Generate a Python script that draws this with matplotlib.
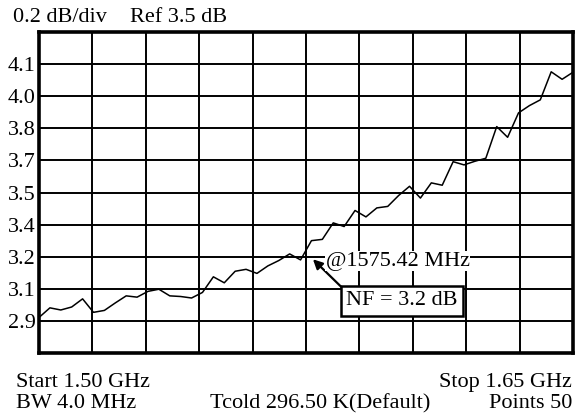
import numpy as np
import matplotlib
matplotlib.use("Agg")
import matplotlib.pyplot as plt

plt.rcParams['font.family'] = ['Liberation Serif', 'DejaVu Serif']
plt.rcParams['font.size'] = 16

# sweep settings
f_start = 1.50  # GHz
f_stop = 1.65
n_points = 50

# noise figure trace (dB)
nf_db = [2.916, 2.961, 2.951, 2.965, 3.003, 2.940, 2.949, 2.984, 3.017, 3.011,
         3.038, 3.048, 3.017, 3.014, 3.007, 3.033, 3.106, 3.078, 3.132, 3.141,
         3.122, 3.157, 3.182, 3.213, 3.185, 3.275, 3.281, 3.358, 3.341, 3.416,
         3.386, 3.428, 3.435, 3.486, 3.529, 3.474, 3.545, 3.534, 3.644, 3.629,
         3.646, 3.660, 3.808, 3.758, 3.872, 3.906, 3.933, 4.064, 4.029, 4.062]

y_bottom = 2.75
y_top = 4.25
y_ticks = [2.9, 3.05, 3.2, 3.35, 3.5, 3.65, 3.8, 3.95, 4.1]
y_labels = ['2.9', '3.1', '3.2', '3.4', '3.5', '3.7', '3.8', '4.0', '4.1']

freq = np.linspace(f_start, f_stop, n_points)

fig = plt.figure(figsize=(5.75, 4.15), dpi=100)
ax = fig.add_axes([39 / 575, 62 / 415, 534 / 575, 321 / 415])

ax.plot(freq, nf_db, color='black', lw=1.1)

ax.set_xlim(f_start, f_stop)
ax.set_ylim(y_bottom, y_top)
ax.set_xticks(np.linspace(f_start, f_stop, 11))
ax.set_xticklabels([])
ax.set_yticks(y_ticks)
ax.set_yticklabels(y_labels)
ax.tick_params(length=0, pad=2.5, labelsize=16)
ax.set_yticks(np.linspace(y_bottom, y_top, 11), minor=True)
ax.tick_params(which='minor', length=0)
ax.grid(True, which='major', axis='x', color='black', lw=1.4)
ax.grid(True, which='both', axis='y', color='black', lw=1.4)
ax.set_axisbelow(True)
for s in ax.spines.values():
    s.set_linewidth(2.6)

# marker readout
ax.annotate('', xy=(0.513, 0.292), xytext=(0.566, 0.206), xycoords='axes fraction',
            arrowprops=dict(arrowstyle='-|>', color='black', lw=1.6, mutation_scale=14,
                            shrinkA=0, shrinkB=0))
ax.text(0.537, 0.286, '@1575.42 MHz', transform=ax.transAxes, ha='left', va='center',
        fontsize=16, bbox=dict(facecolor='white', edgecolor='none', pad=0.5))
ax.text(0.680, 0.163, 'NF = 3.2 dB', transform=ax.transAxes, ha='center', va='center',
        fontsize=16, bbox=dict(facecolor='white', edgecolor='black', lw=1.8,
                               boxstyle='square,pad=0.25'))

# header / footer
fig.text(13 / 575, 1 - 22 / 415, '0.2 dB/div', ha='left', va='baseline')
fig.text(130 / 575, 1 - 22 / 415, 'Ref 3.5 dB', ha='left', va='baseline')
fig.text(16 / 575, 1 - 387 / 415, 'Start 1.50 GHz', ha='left', va='baseline')
fig.text(16 / 575, 1 - 408 / 415, 'BW 4.0 MHz', ha='left', va='baseline')
fig.text(210 / 575, 1 - 408 / 415, 'Tcold 296.50 K(Default)', ha='left', va='baseline')
fig.text(572 / 575, 1 - 387 / 415, 'Stop 1.65 GHz', ha='right', va='baseline')
fig.text(572 / 575, 1 - 408 / 415, 'Points 50', ha='right', va='baseline')

fig.savefig('out.png', dpi=100)
